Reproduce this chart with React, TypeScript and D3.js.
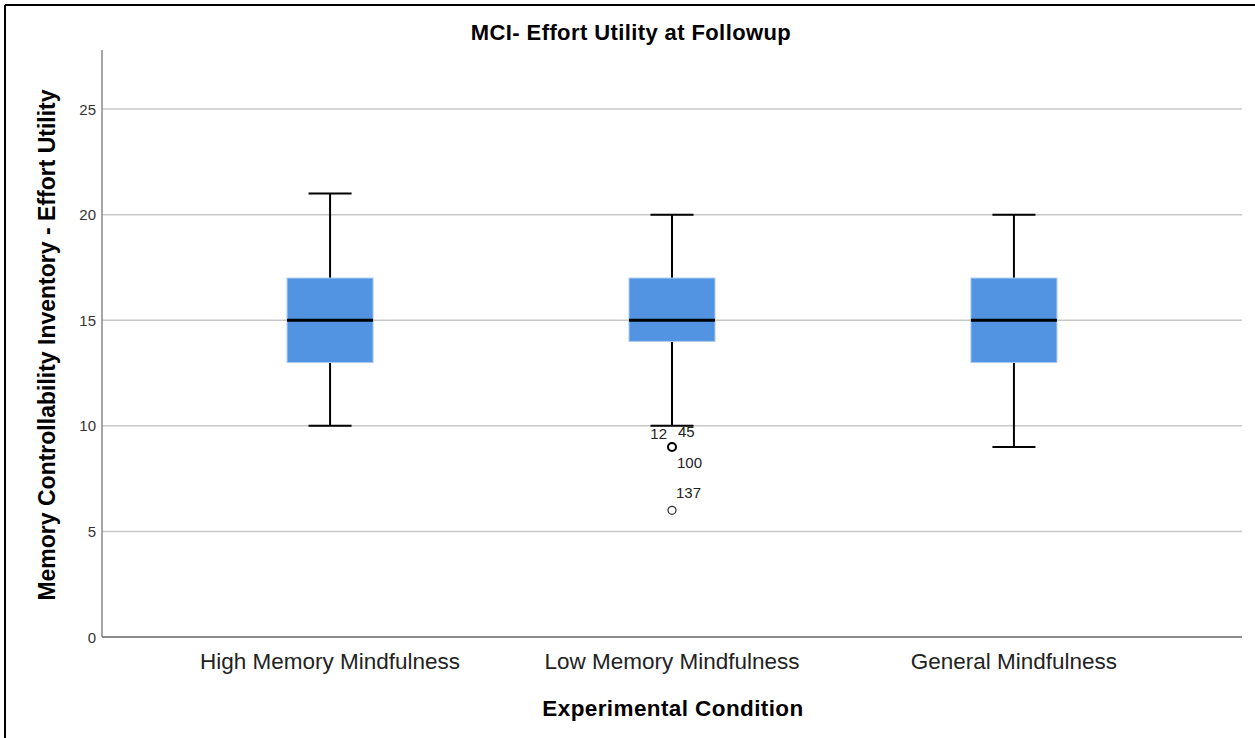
import React, { useEffect, useRef } from 'react';
import * as d3 from 'd3';

const conditions = ['High Memory Mindfulness', 'Low Memory Mindfulness', 'General Mindfulness'];
const whiskerLow = [10, 10, 9];
const q1Values = [13, 14, 13];
const medianValues = [15, 15, 15];
const q3Values = [17, 17, 17];
const whiskerHigh = [21, 20, 20];
const outlierCondition = ['Low Memory Mindfulness', 'Low Memory Mindfulness'];
const outlierValues = [9, 6];
const outlierLabels = [['12', '45', '100'], ['137']];
const yTicks = [0, 5, 10, 15, 20, 25];

function App() {
    const chartRef = useRef<SVGSVGElement>(null);

    useEffect(() => {
        document.body.style.margin = '0';
        const svg = d3.select(chartRef.current)
            .attr('width', 1255)
            .attr('height', 738)
            .style('background', '#ffffff')
            .style('display', 'block');
        svg.selectAll('*').remove();

        const font = 'Arial, "Liberation Sans", sans-serif';

        // frame (cropped on right/bottom)
        svg.append('line').attr('x1', 5).attr('x2', 1255).attr('y1', 5).attr('y2', 5)
            .attr('stroke', '#000').attr('stroke-width', 2);
        svg.append('line').attr('x1', 5).attr('x2', 5).attr('y1', 5).attr('y2', 738)
            .attr('stroke', '#000').attr('stroke-width', 2);

        const xScale = d3.scalePoint()
            .domain(conditions)
            .range([102, 1242])
            .padding(0.667);

        const yScale = d3.scaleLinear()
            .domain([0, 27.8])
            .range([637, 50]);

        // grid
        svg.selectAll('.grid')
            .data(yTicks.filter(d => d > 0))
            .enter()
            .append('line')
            .attr('x1', 102)
            .attr('x2', 1242)
            .attr('y1', d => yScale(d))
            .attr('y2', d => yScale(d))
            .attr('stroke', '#c8c8c8')
            .attr('stroke-width', 1.5);

        // axes lines
        svg.append('line').attr('x1', 102).attr('x2', 102).attr('y1', 50).attr('y2', 637)
            .attr('stroke', '#888').attr('stroke-width', 1.5);
        svg.append('line').attr('x1', 102).attr('x2', 1242).attr('y1', 637).attr('y2', 637)
            .attr('stroke', '#666').attr('stroke-width', 1.5);

        svg.selectAll('.ytick')
            .data(yTicks)
            .enter()
            .append('text')
            .attr('x', 96)
            .attr('y', d => yScale(d) + 5.5)
            .attr('text-anchor', 'end')
            .attr('font-family', font)
            .attr('font-size', 15)
            .attr('fill', '#333')
            .text(d => d);

        const boxW = 86;
        const capW = 43;
        const idx = conditions.map((c, i) => i);

        // whiskers and boxes
        idx.forEach(i => {
            const cx = xScale(conditions[i]) as number;
            const g = svg.append('g');
            g.append('line').attr('x1', cx).attr('x2', cx)
                .attr('y1', yScale(whiskerHigh[i])).attr('y2', yScale(q3Values[i]))
                .attr('stroke', '#000').attr('stroke-width', 2);
            g.append('line').attr('x1', cx).attr('x2', cx)
                .attr('y1', yScale(q1Values[i])).attr('y2', yScale(whiskerLow[i]))
                .attr('stroke', '#000').attr('stroke-width', 2);
            g.append('line').attr('x1', cx - capW / 2).attr('x2', cx + capW / 2)
                .attr('y1', yScale(whiskerHigh[i])).attr('y2', yScale(whiskerHigh[i]))
                .attr('stroke', '#000').attr('stroke-width', 2);
            g.append('line').attr('x1', cx - capW / 2).attr('x2', cx + capW / 2)
                .attr('y1', yScale(whiskerLow[i])).attr('y2', yScale(whiskerLow[i]))
                .attr('stroke', '#000').attr('stroke-width', 2);
            g.append('rect')
                .attr('x', cx - boxW / 2)
                .attr('y', yScale(q3Values[i]))
                .attr('width', boxW)
                .attr('height', yScale(q1Values[i]) - yScale(q3Values[i]))
                .attr('fill', '#5294e2')
                .attr('stroke', '#a9c9f0')
                .attr('stroke-width', 1);
            g.append('line').attr('x1', cx - boxW / 2).attr('x2', cx + boxW / 2)
                .attr('y1', yScale(medianValues[i])).attr('y2', yScale(medianValues[i]))
                .attr('stroke', '#000').attr('stroke-width', 3);
        });

        // outliers
        outlierValues.forEach((v, i) => {
            const cx = xScale(outlierCondition[i]) as number;
            const cy = yScale(v);
            svg.append('circle').attr('cx', cx).attr('cy', cy).attr('r', 4)
                .attr('fill', 'none').attr('stroke', i === 0 ? '#000' : '#333')
                .attr('stroke-width', i === 0 ? 2 : 1.3);
            const labels = outlierLabels[i];
            const txt = (s: string, x: number, y: number, anchor: string) =>
                svg.append('text').attr('x', x).attr('y', y).attr('text-anchor', anchor)
                    .attr('font-family', font).attr('font-size', 15).attr('fill', '#222').text(s);
            if (labels.length === 3) {
                txt(labels[0], cx - 5, cy - 8, 'end');
                txt(labels[1], cx + 6, cy - 10, 'start');
                txt(labels[2], cx + 5, cy + 21, 'start');
            } else {
                txt(labels[0], cx + 4, cy - 12, 'start');
            }
        });

        // category labels
        svg.selectAll('.xlab')
            .data(conditions)
            .enter()
            .append('text')
            .attr('x', d => xScale(d) as number)
            .attr('y', 669)
            .attr('text-anchor', 'middle')
            .attr('font-family', font)
            .attr('font-size', 22.5)
            .attr('fill', '#222')
            .text(d => d);

        svg.append('text')
            .attr('x', 631).attr('y', 40)
            .attr('text-anchor', 'middle')
            .attr('font-family', font)
            .attr('font-weight', 'bold')
            .attr('font-size', 22)
            .attr('letter-spacing', 0.4)
            .text('MCI- Effort Utility at Followup');

        svg.append('text')
            .attr('x', 673).attr('y', 716)
            .attr('text-anchor', 'middle')
            .attr('font-family', font)
            .attr('font-weight', 'bold')
            .attr('font-size', 22.5)
            .attr('letter-spacing', 0.4)
            .text('Experimental Condition');

        svg.append('text')
            .attr('transform', 'translate(55, 345) rotate(-90)')
            .attr('text-anchor', 'middle')
            .attr('font-family', font)
            .attr('font-weight', 'bold')
            .attr('font-size', 23)
            .text('Memory Controllability Inventory - Effort Utility');
    }, []);

    return <svg ref={chartRef}></svg>;
}

export default App;
